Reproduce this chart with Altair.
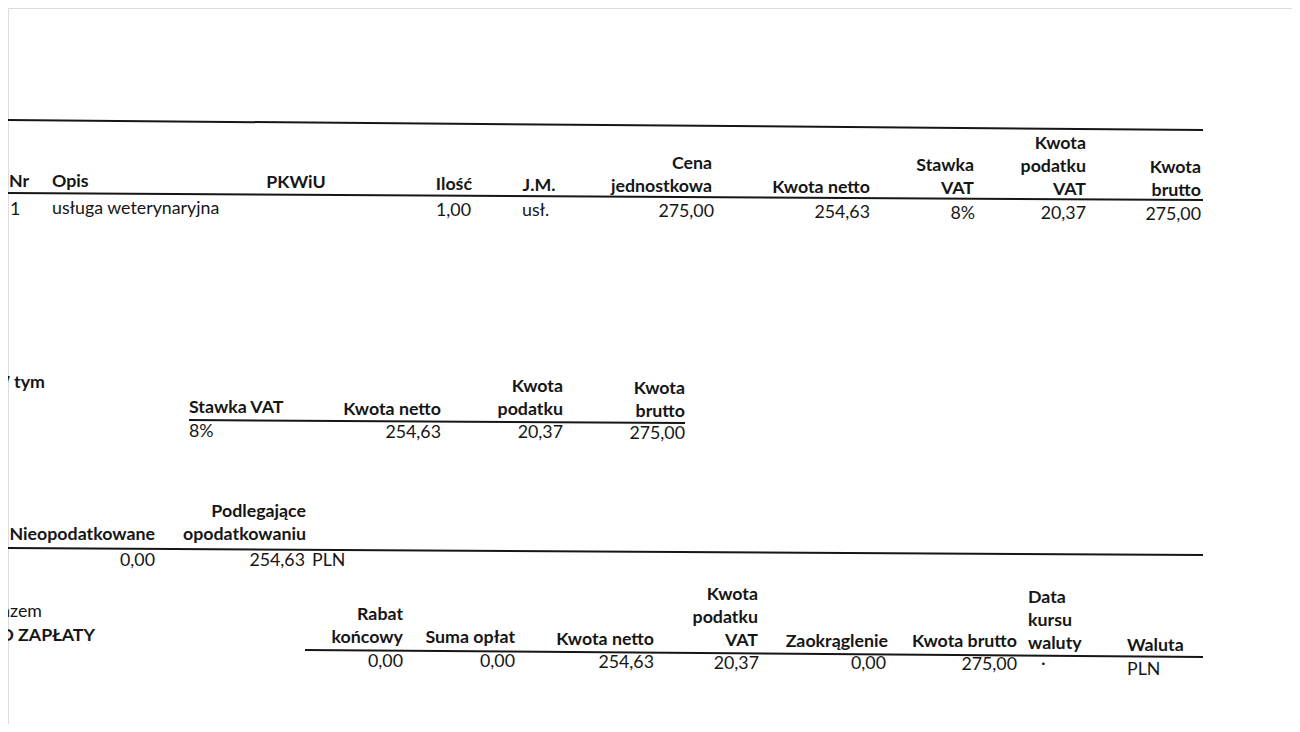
import altair as alt
import pandas as pd

# ---------------- DATA (text content) ----------------
# Table 1: invoice positions
t1_headers = [["Nr"], ["Opis"], ["PKWiU"], ["Ilość"], ["J.M."], ["Cena", "jednostkowa"],
              ["Kwota netto"], ["Stawka", "VAT"], ["Kwota", "podatku", "VAT"], ["Kwota", "brutto"]]
t1_values = ["1", "usługa weterynaryjna", "", "1,00", "usł.", "275,00", "254,63", "8%", "20,37", "275,00"]

# Table 2: "W tym" (VAT breakdown)
t2_title = ["W tym"]
t2_headers = [["Stawka VAT"], ["Kwota netto"], ["Kwota", "podatku"], ["Kwota", "brutto"]]
t2_values = ["8%", "254,63", "20,37", "275,00"]

# Table 3: taxable / non-taxable
t3_headers = [["Nieopodatkowane"], ["Podlegające", "opodatkowaniu"], [""]]
t3_values = ["0,00", "254,63", "PLN"]

# Table 4: totals
t4_title = ["Razem", "DO ZAPŁATY"]
t4_headers = [["Rabat", "końcowy"], ["Suma opłat"], ["Kwota netto"], ["Kwota", "podatku", "VAT"],
              ["Zaokrąglenie"], ["Kwota brutto"], ["Data", "kursu", "waluty"], ["Waluta"]]
t4_values = ["0,00", "0,00", "254,63", "20,37", "0,00", "275,00", "·", "PLN"]

# ---------------- LAYOUT (page positions, kept apart from data) ----------------
LINE_GAP = 23
# per column: anchor x, align, baseline of the last header line, baseline of value row
t1_x = [9, 52, 296, 472, 539, 712, 870, 974, 1086, 1201]
t1_align = ["left", "left", "center", "right", "center", "right", "right", "right", "right", "right"]
t1_hy = [187, 187, 188, 190, 191, 192, 193, 194, 195, 196]
t1_vx = [10, 52, 296, 471, 522, 714, 870, 975, 1086, 1201]
t1_valign = ["left", "left", "center", "right", "left", "right", "right", "right", "right", "right"]
t1_vy = [215, 214, 215, 216, 216, 217, 218, 219, 219, 220]
t1_lines = [(0, 120, 1203, 130), (0, 193, 1203, 200)]

t2_title_pos = (45, 388)
t2_x = [189, 441, 563, 685]
t2_align = ["left", "right", "right", "right"]
t2_hy = [413, 415, 415, 417]
t2_vx = [189, 441, 563, 685]
t2_valign = ["left", "right", "right", "right"]
t2_vy = [437, 438, 438, 439]
t2_lines = [(189, 420, 685, 423)]

t3_x = [155, 306, 312]
t3_align = ["right", "right", "left"]
t3_hy = [540, 540, 540]
t3_vx = [155, 305, 312]
t3_valign = ["right", "right", "left"]
t3_vy = [566, 566, 566]
t3_lines = [(0, 548, 1203, 555)]

t4_title_pos = [(42, 617), (95, 641)]
t4_x = [403, 515, 654, 758, 888, 1017, 1028, 1127]
t4_align = ["right", "right", "right", "right", "right", "right", "left", "left"]
t4_hy = [643, 643, 645, 646, 647, 647, 649, 651]
t4_vx = [403, 515, 654, 759, 886, 1017, 1041, 1127]
t4_valign = ["right", "right", "right", "right", "right", "right", "left", "left"]
t4_vy = [667, 667, 668, 669, 669, 670, 669, 675]
t4_lines = [(305, 650, 1203, 657)]

# ---------------- build tables for the library ----------------
items = []


def add_table(headers, xs, aligns, hys, values, vxs, valigns, vys):
    for hdr, x, a, y in zip(headers, xs, aligns, hys):
        n = len(hdr)
        for i, line in enumerate(hdr):
            if line:
                items.append(dict(x=x, y=y - (n - 1 - i) * LINE_GAP, text=line, align=a, weight="bold"))
    for v, x, a, y in zip(values, vxs, valigns, vys):
        if v:
            items.append(dict(x=x, y=y, text=v, align=a, weight="normal"))


add_table(t1_headers, t1_x, t1_align, t1_hy, t1_values, t1_vx, t1_valign, t1_vy)
add_table(t2_headers, t2_x, t2_align, t2_hy, t2_values, t2_vx, t2_valign, t2_vy)
add_table(t3_headers, t3_x, t3_align, t3_hy, t3_values, t3_vx, t3_valign, t3_vy)
add_table(t4_headers, t4_x, t4_align, t4_hy, t4_values, t4_vx, t4_valign, t4_vy)

items.append(dict(x=t2_title_pos[0], y=t2_title_pos[1], text=t2_title[0], align="right", weight="bold"))
items.append(dict(x=t4_title_pos[0][0], y=t4_title_pos[0][1], text=t4_title[0], align="right", weight="normal"))
items.append(dict(x=t4_title_pos[1][0], y=t4_title_pos[1][1], text=t4_title[1], align="right", weight="bold"))

texts = pd.DataFrame(items)
rules = pd.DataFrame(
    [dict(x=a, y=b, x2=c, y2=d) for (a, b, c, d) in t1_lines + t2_lines + t3_lines + t4_lines]
)

W, H = 1284, 716
xs = alt.Scale(domain=[8, 8 + W], range=[0, W])
ys = alt.Scale(domain=[8, 8 + H], range=[0, H])

FONT = "Lato"
INK = "#161616"

layers = []
for a in ["left", "center", "right"]:
    for w in ["bold", "normal"]:
        layers.append(
            alt.Chart(texts)
            .transform_filter((alt.datum.align == a) & (alt.datum.weight == w))
            .mark_text(align=a, baseline="alphabetic", font=FONT, fontSize=17.8,
                       fontWeight=w, color=INK)
            .encode(
                x=alt.X("x:Q", scale=xs, axis=None),
                y=alt.Y("y:Q", scale=ys, axis=None),
                text="text:N",
            )
        )

rule_layer = (
    alt.Chart(rules)
    .mark_rule(color=INK, strokeWidth=2)
    .encode(
        x=alt.X("x:Q", scale=xs, axis=None),
        y=alt.Y("y:Q", scale=ys, axis=None),
        x2="x2:Q",
        y2="y2:Q",
    )
)

chart = (
    alt.layer(rule_layer, *layers)
    .properties(width=W, height=H, padding=0, autosize=alt.AutoSizeParams(type="none"))
    .configure_view(stroke="transparent", strokeWidth=0, fill="white")
    .configure(background="white")
)

chart.save("out.html", embed_options={"renderer": "svg", "actions": False})
